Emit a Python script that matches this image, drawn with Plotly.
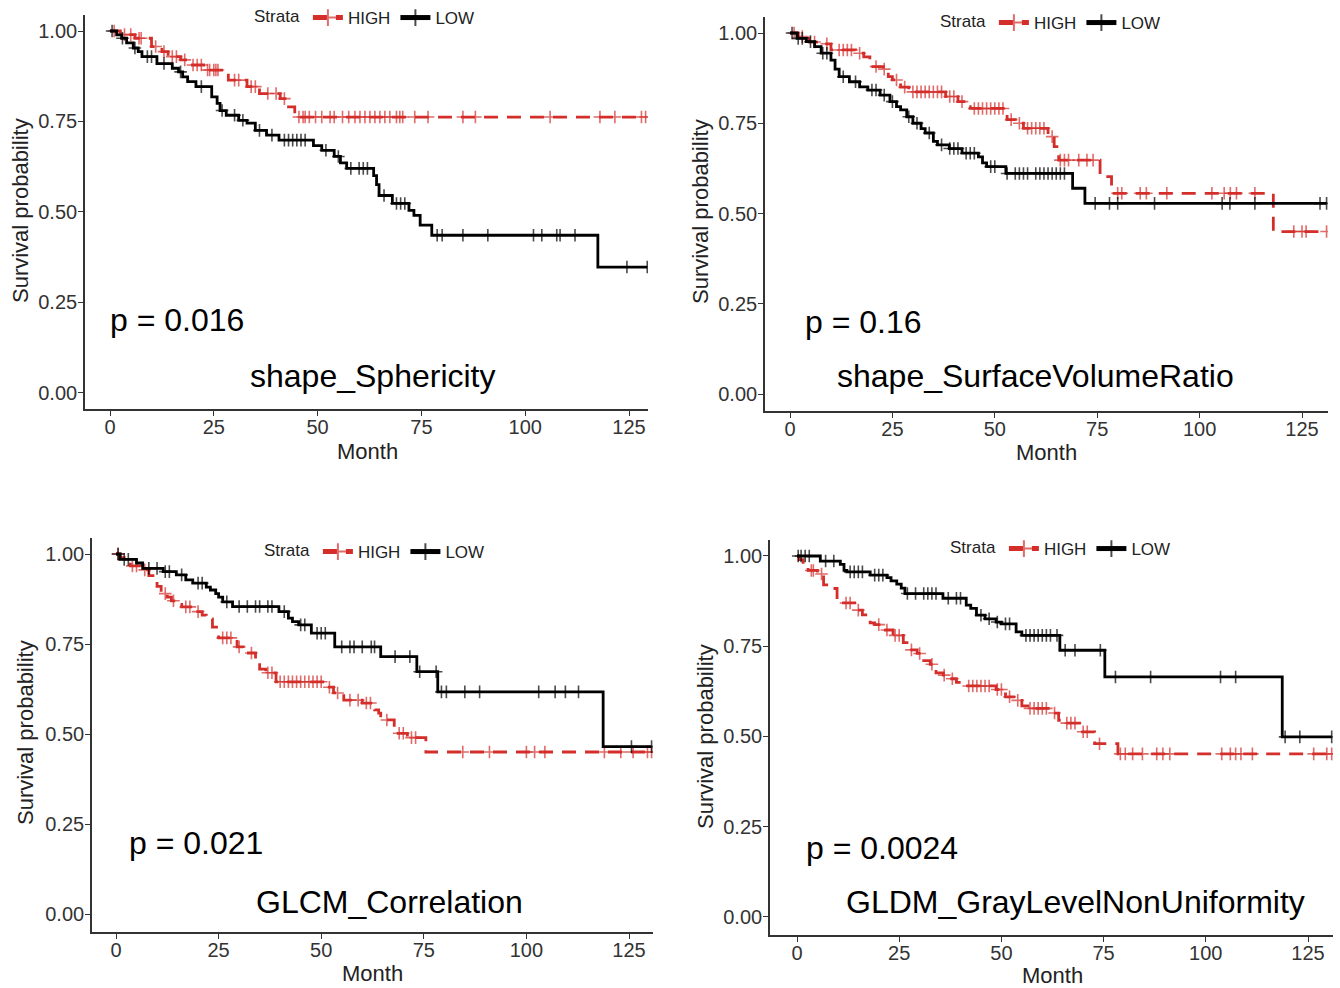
import plotly.graph_objects as go

# ---------------- data ----------------
# Panel 1: shape_Sphericity
P1_HIGH_EVENT_T = [2.5, 6.0, 10, 12.5, 14, 17, 19, 23, 28.5, 33, 36, 41, 43, 44.5]
P1_HIGH_EVENT_S = [0.990, 0.980, 0.957, 0.943, 0.929, 0.920, 0.906, 0.892, 0.864, 0.846, 0.827, 0.813, 0.790, 0.762]
P1_HIGH_CENSOR_T = [1, 3.5, 5, 7, 7.5, 11, 13, 15, 16, 18, 20, 21, 22, 23.5, 24, 25, 25.5, 26, 30, 31, 34, 35,
                    38, 40, 42, 45.5, 46.5, 47, 48, 49.5, 51, 53, 54, 56, 57.5, 59, 60.2, 61.4, 62.6, 63.8, 65,
                    66.2, 67.4, 69, 69.8, 70.5, 73.4, 76.6, 85, 88, 106, 118, 121.6, 128, 129]
P1_LOW_EVENT_T = [1.6, 2.8, 4, 5.6, 6.8, 7.7, 11.3, 15, 16.5, 17.5, 18.7, 20.7, 24.5, 25.8, 26.5, 28, 31, 33, 35,
                  37.7, 40.7, 49, 51, 54, 55.5, 57, 63.5, 64.2, 64.8, 68, 72, 73.2, 74.7, 77.5, 117.5]
P1_LOW_EVENT_S = [0.989, 0.980, 0.967, 0.953, 0.943, 0.929, 0.910, 0.897, 0.887, 0.873, 0.860, 0.846, 0.818,
                  0.800, 0.780, 0.767, 0.753, 0.745, 0.725, 0.712, 0.698, 0.683, 0.670, 0.653, 0.635, 0.620,
                  0.600, 0.575, 0.545, 0.523, 0.504, 0.490, 0.463, 0.435, 0.347]
P1_LOW_CENSOR_T = [0.5, 3, 6, 9, 10, 13, 17, 22, 27, 30, 32, 36, 39, 42, 43, 44, 45, 46, 47, 52, 55, 58, 60,
                   61, 62, 66, 69, 70, 71, 78.8, 80, 85, 91, 102, 104, 107.6, 108.4, 112, 124.5, 129.4]

# Panel 2: shape_SurfaceVolumeRatio
P2_HIGH_EVENT_T = [2, 4.7, 8, 10, 16, 18, 19.5, 22.8, 24, 25, 27, 29, 38, 41, 43, 44, 53, 55, 57, 63, 64.5,
                   65.6, 75.7, 78.5, 118]
P2_HIGH_EVENT_S = [0.990, 0.975, 0.970, 0.953, 0.944, 0.934, 0.907, 0.900, 0.879, 0.870, 0.850, 0.837, 0.824,
                   0.810, 0.796, 0.791, 0.760, 0.750, 0.736, 0.713, 0.685, 0.648, 0.602, 0.556, 0.450]
P2_HIGH_CENSOR_T = [1, 3, 6, 9, 12, 13, 14, 15, 17, 21, 23, 26, 28, 30, 31, 32, 33, 34, 35, 36, 37, 39, 40, 42,
                    45, 46, 47, 48, 49, 50, 51, 52, 54, 56, 58, 59, 60, 61, 62, 64, 66, 67, 68, 70.5, 72.5, 74,
                    80, 81, 85.5, 87, 92, 103, 106, 107.5, 109, 113.5, 123, 125, 126, 131]
P2_LOW_EVENT_T = [1.7, 4, 6, 7.6, 10, 11, 12, 14.5, 17, 19, 22, 24.4, 26, 27, 28.5, 30, 32, 33, 35, 36, 38.9,
                  42, 46, 47, 48, 52.7, 69, 72]
P2_LOW_EVENT_S = [0.985, 0.976, 0.962, 0.944, 0.925, 0.900, 0.879, 0.865, 0.851, 0.842, 0.828, 0.810, 0.796,
                  0.787, 0.768, 0.750, 0.735, 0.723, 0.700, 0.690, 0.680, 0.667, 0.657, 0.640, 0.630, 0.611,
                  0.570, 0.528]
P2_LOW_CENSOR_T = [0.5, 2, 3, 5, 8, 9, 13, 16, 20, 21, 23, 25, 29, 31, 34, 37, 39, 40, 41, 43, 44, 45, 49, 50,
                   53, 55, 56, 57, 58, 60, 61, 62, 63, 64, 65, 66, 67, 74.5, 78, 80, 89, 105.5, 107.4, 113.5,
                   129.4, 131]

# Panel 3: GLCM_Correlation
P3_HIGH_EVENT_T = [1, 2, 3.5, 6, 8, 9, 10, 11, 12.5, 13.5, 15, 16, 19, 21, 22, 23.5, 24.5, 25, 29.5, 31, 31.7,
                   34, 35, 36.5, 39, 51, 53, 55.5, 60, 63, 64, 64.5, 67.8, 71, 75.5]
P3_HIGH_EVENT_S = [0.990, 0.980, 0.967, 0.956, 0.940, 0.930, 0.910, 0.890, 0.880, 0.870, 0.860, 0.853, 0.840,
                   0.830, 0.820, 0.797, 0.789, 0.767, 0.742, 0.733, 0.725, 0.700, 0.680, 0.670, 0.645, 0.630,
                   0.614, 0.594, 0.586, 0.567, 0.558, 0.539, 0.502, 0.490, 0.450]
P3_HIGH_CENSOR_T = [0.5, 4, 5, 7, 12, 14, 17, 18, 20, 26, 27, 28, 30, 33, 37, 38, 40, 41, 42, 43, 44, 45, 46,
                    47, 48, 49, 50, 52, 54, 57, 59, 61, 62, 66, 69, 70, 72, 73, 84.5, 91, 100, 102, 104.5, 119,
                    123, 126, 129.5, 130.5]
P3_LOW_EVENT_T = [1, 5, 6.5, 11.5, 14.7, 17, 18.7, 22, 23, 24.3, 25, 26, 28.4, 39.7, 42, 43, 44.5, 47.6, 53.3,
                  64.5, 73.3, 78.4, 118.7]
P3_LOW_EVENT_S = [0.985, 0.975, 0.960, 0.951, 0.942, 0.928, 0.919, 0.908, 0.900, 0.890, 0.880, 0.867, 0.854,
                  0.840, 0.822, 0.812, 0.803, 0.780, 0.742, 0.715, 0.673, 0.617, 0.465]
P3_LOW_CENSOR_T = [0.5, 2, 3, 8, 10, 12, 13, 16, 20, 21, 27, 30, 32, 34, 35, 37, 38, 41, 45, 46, 49, 50, 51, 55,
                   57, 58, 60, 62.2, 63, 68, 71.6, 74, 78, 79.3, 80.5, 85, 88.6, 103, 107, 109.5, 112.7, 125.6,
                   130.5]

# Panel 4: GLDM_GrayLevelNonUniformity
P4_HIGH_EVENT_T = [0.5, 1.5, 2.7, 5, 6.5, 8, 9.8, 11, 14.6, 16, 17.9, 19, 21.6, 23.5, 26, 27.5, 29.4, 31, 32.6,
                   34, 35.8, 37, 39, 40.6, 48.7, 51, 53.6, 55, 56.8, 62.5, 64, 65, 69.5, 72.8, 78.5]
P4_HIGH_EVENT_S = [0.990, 0.977, 0.960, 0.950, 0.920, 0.910, 0.885, 0.870, 0.850, 0.837, 0.815, 0.810, 0.795,
                   0.780, 0.760, 0.740, 0.730, 0.710, 0.700, 0.676, 0.670, 0.660, 0.650, 0.640, 0.630, 0.610,
                   0.600, 0.585, 0.578, 0.565, 0.545, 0.537, 0.513, 0.480, 0.452]
P4_HIGH_CENSOR_T = [3.5, 4, 6, 12, 13, 15, 20, 22, 24, 25, 28, 30, 33, 36, 38, 42, 43, 44, 45, 46, 47, 49, 50,
                    52, 54, 57, 58, 59, 60, 61, 63, 66, 67, 68, 70, 71, 74, 79.1, 80.3, 82.1, 84.5, 88, 89.5,
                    91.2, 103.9, 106, 107.3, 108.6, 111.4, 126.4, 129.6, 130.8]
P4_LOW_EVENT_T = [5.7, 10.6, 11.5, 12.2, 17.9, 22, 23, 24.4, 25.5, 26.4, 35.7, 41.4, 42.5, 43.9, 46, 48.7, 50,
                  53.6, 55, 64.3, 75.3, 118.7]
P4_LOW_EVENT_S = [0.986, 0.977, 0.960, 0.956, 0.947, 0.940, 0.931, 0.922, 0.911, 0.896, 0.883, 0.864, 0.855,
                  0.836, 0.826, 0.817, 0.812, 0.790, 0.780, 0.739, 0.665, 0.499]
P4_LOW_CENSOR_T = [0.3, 1, 2, 3, 7, 9, 13, 14, 15, 16, 19, 20, 21, 27, 29, 31, 32, 33, 34, 37, 39, 40, 45, 47,
                   49, 51, 52, 56, 57, 58, 59, 60, 61, 62, 63.6, 65.6, 68, 74.2, 77.9, 86.5, 103.6, 107.3, 119.4,
                   123, 130.8]

FEATURES = ["shape_Sphericity", "shape_SurfaceVolumeRatio", "GLCM_Correlation", "GLDM_GrayLevelNonUniformity"]
PVALUES = ["p = 0.016", "p = 0.16", "p = 0.021", "p = 0.0024"]
STRATA = ["HIGH", "LOW"]
Y_TICKS = [0, 0.25, 0.5, 0.75, 1.0]
X_TICKS = [0, 25, 50, 75, 100, 125]

DATA = [
    ((P1_HIGH_EVENT_T, P1_HIGH_EVENT_S, P1_HIGH_CENSOR_T), (P1_LOW_EVENT_T, P1_LOW_EVENT_S, P1_LOW_CENSOR_T)),
    ((P2_HIGH_EVENT_T, P2_HIGH_EVENT_S, P2_HIGH_CENSOR_T), (P2_LOW_EVENT_T, P2_LOW_EVENT_S, P2_LOW_CENSOR_T)),
    ((P3_HIGH_EVENT_T, P3_HIGH_EVENT_S, P3_HIGH_CENSOR_T), (P3_LOW_EVENT_T, P3_LOW_EVENT_S, P3_LOW_CENSOR_T)),
    ((P4_HIGH_EVENT_T, P4_HIGH_EVENT_S, P4_HIGH_CENSOR_T), (P4_LOW_EVENT_T, P4_LOW_EVENT_S, P4_LOW_CENSOR_T)),
]

# ---------------- layout geometry (pixels) ----------------
W, H = 1340, 988
FONT = "Liberation Sans, Arial, sans-serif"
RED = "#D42E2B"
BLACK = "#000000"
AX = "#333333"

# left, right, px of x=0, px of x=125, bottom, py of y=0, py of y=1
BOXES = [
    (85, 648, 110, 629, 409, 392.5, 31),
    (765, 1328, 790, 1302, 411, 394, 33),
    (92, 653, 116, 629, 932, 914, 554),
    (770, 1333, 797, 1308, 935, 917, 556),
]
PTEXT = [(108, 320), (803, 322), (127, 843), (804, 848)]
NAMETEXT = [(372, 376), (1035, 376), (389, 902), (1075, 902)]
LEGEND_POS = [(366, 18), (1052, 23), (376, 552), (1062, 549)]
YTITLE = [(20, 211), (700, 211), (25, 733), (705, 737)]
XTITLE = [(367, 451), (1046, 452), (372, 973), (1052, 975)]


def km_path(event_t, event_s, censor_t):
    pts = [(0.0, 1.0, 0)]
    pts += [(t, s, 0) for t, s in zip(event_t, event_s)]
    for c in censor_t:
        s = 1.0
        for t, v in zip(event_t, event_s):
            if t <= c:
                s = v
        pts.append((c, s, 1))
    pts.sort(key=lambda p: (p[0], p[2]))
    return [p[0] for p in pts], [p[1] for p in pts], [9 if p[2] else 0 for p in pts]


fig = go.Figure()
layout = dict(width=W, height=H, margin=dict(l=0, r=0, t=0, b=0),
              paper_bgcolor="white", plot_bgcolor="white", showlegend=True,
              font=dict(family=FONT, color="#222"))
annotations = []

for i, (box, curves) in enumerate(zip(BOXES, DATA)):
    left, right, x0, x125, bottom, y0, y1 = box
    ppm = (x125 - x0) / 125.0
    ppv = (y0 - y1)
    top = y0 - 1.045 * ppv
    xr = [(left - x0) / ppm, (right - x0) / ppm]
    yr = [-(bottom - y0) / ppv, 1.045]
    sfx = "" if i == 0 else str(i + 1)
    leg = "legend" + sfx
    for name, (et, es, ct), color, dash in zip(STRATA, curves, [RED, BLACK], ["14px,9px", "solid"]):
        x, y, sz = km_path(et, es, ct)
        fig.add_trace(go.Scatter(
            x=x, y=y, mode="lines+markers", name=name, legend=leg,
            xaxis="x" + sfx, yaxis="y" + sfx,
            line=dict(color=color, width=2.8, shape="hv", dash=dash),
            marker=dict(symbol="cross-thin", size=sz, color=color,
                        line=dict(color=color, width=1.6)),
            hoverinfo="x+y"))
    layout["xaxis" + sfx] = dict(
        domain=[left / W, right / W], range=xr, anchor="y" + sfx,
        tickvals=X_TICKS, showgrid=False, zeroline=False, showline=True,
        linecolor=AX, linewidth=1.6, ticks="outside", ticklen=5, tickwidth=1.4, tickcolor=AX,
        ticklabelstandoff=-6,
        tickfont=dict(size=20, color="#333", family=FONT))
    layout["yaxis" + sfx] = dict(
        domain=[1 - bottom / H, 1 - top / H], range=yr, anchor="x" + sfx,
        tickvals=Y_TICKS, tickformat=".2f", showgrid=False, zeroline=False, showline=True,
        linecolor=AX, linewidth=1.6, ticks="outside", ticklen=5, tickwidth=1.4, tickcolor=AX,
        ticklabelstandoff=-3,
        tickfont=dict(size=20, color="#333", family=FONT))
    lx, ly = LEGEND_POS[i]
    layout[leg] = dict(
        orientation="h", x=lx / W, y=1 - ly / H, xanchor="center", yanchor="middle",
        xref="paper", yref="paper", bgcolor="rgba(0,0,0,0)",
        title=dict(text="Strata", side="left", font=dict(size=17, color="#222")),
        font=dict(size=17, color="#222"), itemwidth=30, itemsizing="constant",
        tracegroupgap=0)
    px_, py_ = PTEXT[i]
    annotations.append(dict(text=PVALUES[i], x=px_ / W, y=1 - py_ / H, xref="paper", yref="paper",
                            xanchor="left", yanchor="middle", showarrow=False,
                            font=dict(size=32, color="#000", family=FONT)))
    nx, ny = NAMETEXT[i]
    annotations.append(dict(text=FEATURES[i], x=nx / W, y=1 - ny / H, xref="paper", yref="paper",
                            xanchor="center", yanchor="middle", showarrow=False,
                            font=dict(size=32, color="#000", family=FONT)))
    tx, ty = YTITLE[i]
    annotations.append(dict(text="Survival probability", x=tx / W, y=1 - ty / H, xref="paper",
                            yref="paper", xanchor="center", yanchor="middle", textangle=-90,
                            showarrow=False, font=dict(size=22, color="#222", family=FONT)))
    mx, my = XTITLE[i]
    annotations.append(dict(text="Month", x=mx / W, y=1 - my / H, xref="paper", yref="paper",
                            xanchor="center", yanchor="middle", showarrow=False,
                            font=dict(size=22, color="#222", family=FONT)))

layout["annotations"] = annotations
fig.update_layout(**layout)
fig.write_html("out.html")
